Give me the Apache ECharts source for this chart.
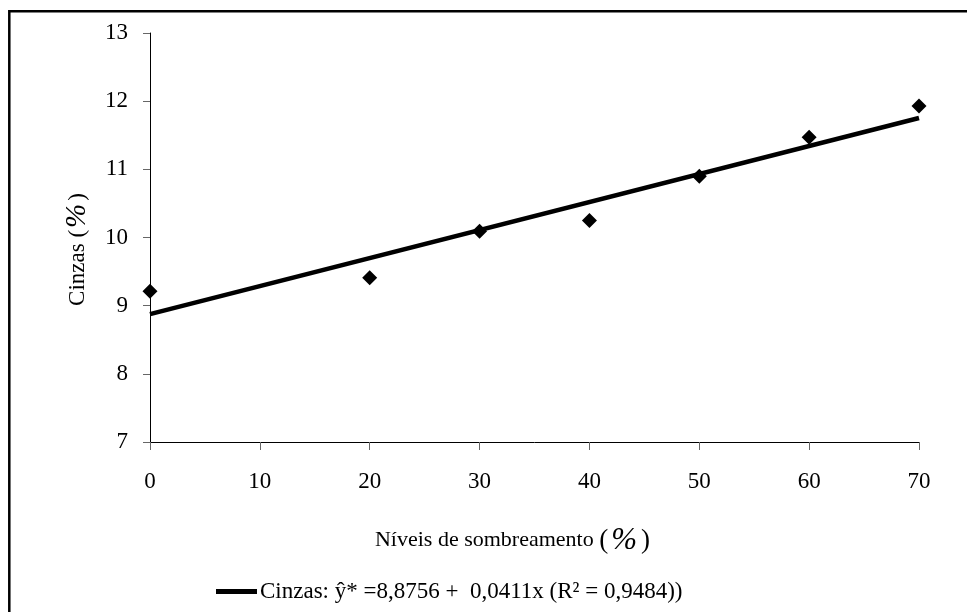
<!DOCTYPE html>
<html>
<head>
<meta charset="utf-8">
<script src="https://cdn.jsdelivr.net/npm/echarts@6/dist/echarts.min.js"></script>
<style>
  html, body { margin: 0; padding: 0; background: #fff; }
  #chart { width: 967px; height: 612px; }
</style>
</head>
<body>
<div id="chart"></div>
<script>
// Shading levels (%) and measured ash content (%)
const shadingLevels = [0, 20, 30, 40, 50, 60, 70];
const ashValues = [9.21, 9.41, 10.09, 10.25, 10.90, 11.47, 11.93];

// Fitted regression: y = intercept + slope * x
const intercept = 8.8756;
const slope = 0.0411;
const fitRange = [0, 70];

const yTicks = [7, 8, 9, 10, 11, 12, 13];
const xTicks = [0, 10, 20, 30, 40, 50, 60, 70];

const fitName = 'Cinzas: ŷ* =8,8756 +  0,0411x (R² = 0,9484))';

const FONT = '"Liberation Serif", "Times New Roman", serif';

const scatterData = shadingLevels.map((x, i) => [x, ashValues[i]]);
const fitData = fitRange.map(x => [x, intercept + slope * x]);

const chart = echarts.init(document.getElementById('chart'), null, { renderer: 'canvas' });

chart.setOption({
  backgroundColor: '#ffffff',
  animation: false,
  textStyle: { fontFamily: FONT, color: '#000' },
  grid: { left: 150, right: 48, top: 33, bottom: 170, containLabel: false },
  xAxis: {
    type: 'value',
    min: xTicks[0],
    max: xTicks[xTicks.length - 1],
    interval: 10,
    name: '{t|Níveis de sombreamento }{p|(}{q|%}{p|)}',
    nameLocation: 'middle',
    nameGap: 83,
    nameTextStyle: {
      padding: [0, 44, 0, 0],
      rich: {
        t: { fontFamily: FONT, fontSize: 22, color: '#000' },
        p: { fontFamily: FONT, fontSize: 27, color: '#000' },
        q: { fontFamily: FONT, fontSize: 31, fontStyle: 'italic', color: '#000', padding: [0, 4, 0, 3] }
      }
    },
    axisLine: { show: true, lineStyle: { color: '#000', width: 1 } },
    axisTick: { show: true, inside: false, length: 8, lineStyle: { color: '#666', width: 1 } },
    axisLabel: { fontFamily: FONT, fontSize: 23, color: '#000', margin: 28 },
    splitLine: { show: false }
  },
  yAxis: {
    type: 'value',
    min: yTicks[0],
    max: yTicks[yTicks.length - 1],
    interval: 1,
    name: '{t|Cinzas }{p|(}{q|%}{p|)}',
    nameLocation: 'middle',
    nameGap: 58,
    nameRotate: 90,
    nameTextStyle: {
      padding: [0, 24, 0, 0],
      rich: {
        t: { fontFamily: FONT, fontSize: 23, color: '#000' },
        p: { fontFamily: FONT, fontSize: 23, color: '#000' },
        q: { fontFamily: FONT, fontSize: 29, fontStyle: 'italic', color: '#000', padding: [0, 3, 0, 2] }
      }
    },
    axisLine: { show: true, lineStyle: { color: '#000', width: 1 } },
    axisTick: { show: true, inside: false, length: 7, lineStyle: { color: '#666', width: 1 } },
    axisLabel: { fontFamily: FONT, fontSize: 23, color: '#000', margin: 22 },
    splitLine: { show: false }
  },
  legend: {
    left: 216,
    top: 580,
    padding: 0,
    itemWidth: 41,
    itemHeight: 5,
    itemGap: 10,
    textStyle: { fontFamily: FONT, fontSize: 23, color: '#000', padding: [0, 0, 0, -2] },
    data: [{ name: fitName, icon: 'rect' }]
  },
  series: [
    {
      name: fitName,
      type: 'line',
      data: fitData,
      showSymbol: false,
      symbol: 'none',
      lineStyle: { color: '#000', width: 4.5 },
      itemStyle: { color: '#000' },
      z: 2
    },
    {
      name: 'Cinzas',
      type: 'scatter',
      data: scatterData,
      symbol: 'diamond',
      symbolSize: 15,
      itemStyle: { color: '#000', opacity: 1 },
      z: 3
    }
  ],
  graphic: [
    {
      type: 'rect',
      shape: { x: 9.3, y: 11.2, width: 1000, height: 700 },
      style: { fill: 'none', stroke: '#000', lineWidth: 2.5 },
      silent: true
    }
  ]
});
</script>
</body>
</html>
